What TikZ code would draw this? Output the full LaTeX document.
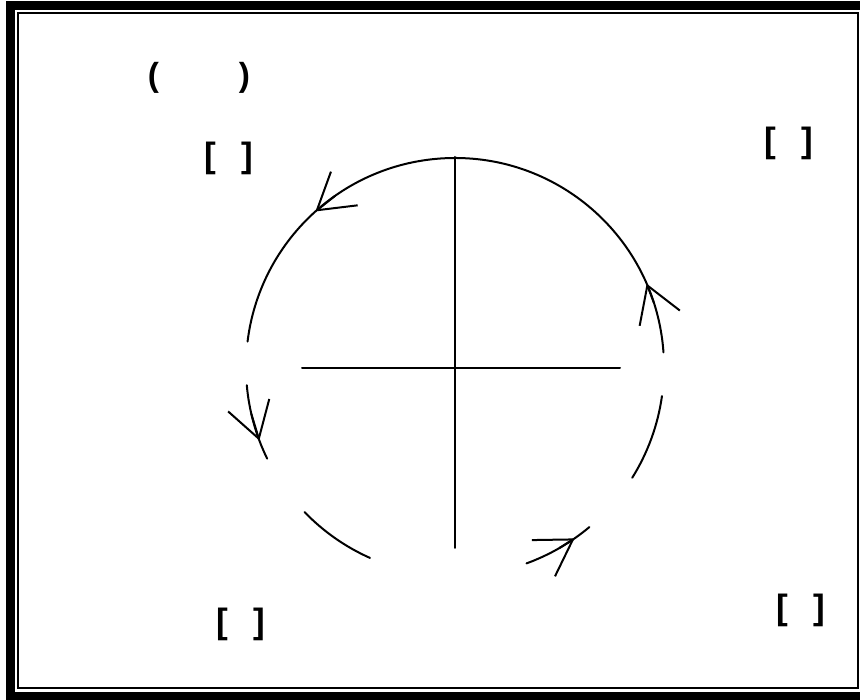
\documentclass[tikz,border=0pt]{standalone}
\usepackage{fontspec}
\setmainfont{Liberation Sans}
\usetikzlibrary{arrows.meta}

\begin{document}
\begin{tikzpicture}[x=0.02cm,y=0.02cm,
  ln/.style={line width=0.04cm,line cap=round},
  tp/.style={ln,-{Straight Barb[length=0.7cm,width=0.86cm]}},
  br/.style={font=\fontsize{20}{20}\selectfont\bfseries,inner sep=0pt},
  pr/.style={font=\fontsize{19}{19}\selectfont\bfseries,inner sep=0pt}]
\useasboundingbox (0,0) rectangle (860,700);
% frame
\fill (6,0) rectangle (15,699);
\fill (6,690) rectangle (860,699);
\fill (6,0) rectangle (860,8);
\draw[line width=0.04cm] (18,687) rectangle (858,12);
% axes
\coordinate (o) at (455,333);
\coordinate (l) at (302,332);
\coordinate (r) at (620,332);
\coordinate (t) at (455,543);
\coordinate (b) at (455,152);
\draw[ln] (l) -- (r);
\draw[ln] (t) -- (b);
% circle pieces
\foreach \s/\e in {4/173,185/206,224/246,290/310,328/352}
  \draw[ln] ([shift={(\s:209)}]o) arc[start angle=\s,end angle=\e,radius=209];
% arrows
\foreach \s/\e in {18/23.5,125/131.9,193/200.6,300/304.9}
  \draw[tp] ([shift={(\s:209)}]o) -- ([shift={(\e:209)}]o);
% labels
\node[pr] (ti) at (199,622) {(\hspace*{1.6cm})};
\node[br] (tl) at (229,542) {[\hspace*{0.5cm}]};
\node[br] (tr) at (789,557) {[\hspace*{0.5cm}]};
\node[br] (bl) at (241,76) {[\hspace*{0.5cm}]};
\node[br] (bb) at (801,90) {[\hspace*{0.5cm}]};
\end{tikzpicture}
\end{document}
